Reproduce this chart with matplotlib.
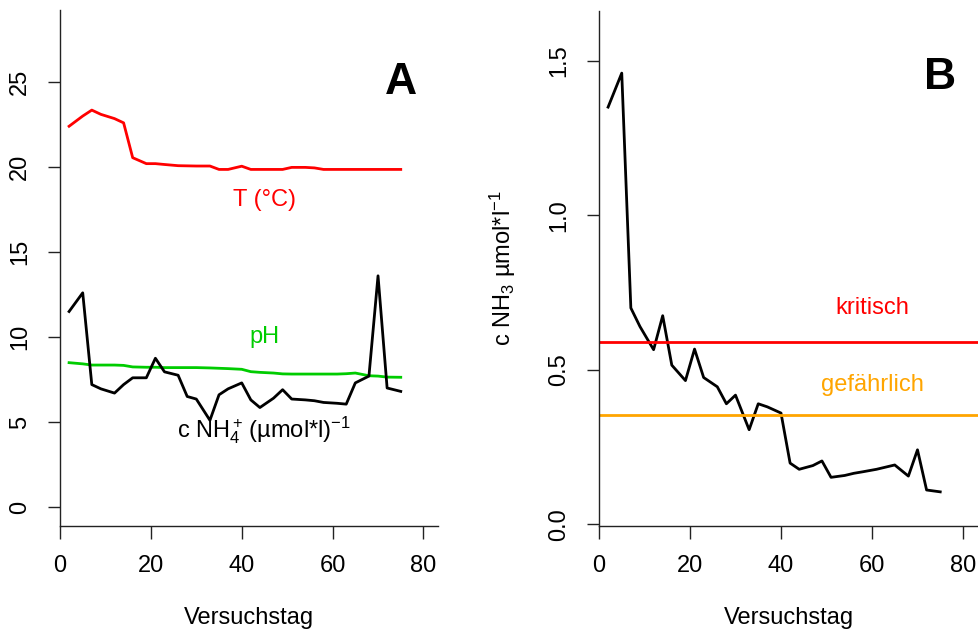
import matplotlib
matplotlib.use("Agg")
import matplotlib.pyplot as plt

plt.rcParams['font.family'] = ['Liberation Sans', 'DejaVu Sans']
plt.rcParams['mathtext.fontset'] = 'custom'
plt.rcParams['mathtext.rm'] = 'Liberation Sans'
plt.rcParams['mathtext.it'] = 'Liberation Sans:italic'
plt.rcParams['mathtext.bf'] = 'Liberation Sans:bold'

# Versuchstage (Mo/Mi/Fr)
tage = [2, 5, 7, 9, 12, 14, 16, 19, 21, 23, 26, 28, 30, 33, 35, 37,
        40, 42, 44, 47, 49, 51, 54, 56, 58, 61, 63, 65, 68, 70, 72, 75]

temp = [22.4, 23.0, 23.35, 23.1, 22.85, 22.6, 20.55, 20.2, 20.2, 20.15, 20.08, 20.07,
        20.06, 20.06, 19.86, 19.86, 20.05, 19.86, 19.86, 19.86, 19.86, 19.98, 19.98,
        19.95, 19.86, 19.86, 19.86, 19.86, 19.86, 19.86, 19.86, 19.86]

ph = [8.49, 8.42, 8.35, 8.35, 8.35, 8.33, 8.24, 8.22, 8.22, 8.2, 8.2, 8.2, 8.2,
      8.18, 8.16, 8.14, 8.1, 7.96, 7.92, 7.88, 7.83, 7.82, 7.82, 7.82, 7.82, 7.82,
      7.84, 7.88, 7.72, 7.7, 7.64, 7.63]

nh4 = [11.5, 12.6, 7.2, 6.95, 6.7, 7.2, 7.6, 7.6, 8.75, 7.95, 7.75, 6.5, 6.35,
       5.1, 6.6, 6.95, 7.3, 6.3, 5.85, 6.4, 6.9, 6.35, 6.3, 6.25, 6.15, 6.1,
       6.05, 7.3, 7.7, 13.6, 7.0, 6.8]

nh3 = [1.35, 1.46, 0.70, 0.64, 0.565, 0.675, 0.515, 0.465, 0.567, 0.475, 0.445,
       0.39, 0.418, 0.306, 0.39, 0.38, 0.36, 0.198, 0.178, 0.19, 0.205, 0.152,
       0.158, 0.165, 0.17, 0.178, 0.185, 0.192, 0.156, 0.241, 0.111, 0.105]

kritisch = 0.59
gefaehrlich = 0.355

fs = 17
axcol = '#222222'

fig = plt.figure(figsize=(9.79, 6.3), dpi=100)
axA = fig.add_axes([60/979, 104/630, 378/979, 516/630])
axB = fig.add_axes([599/979, 104/630, 379/979, 515/630])

for ax in (axA, axB):
    ax.spines['top'].set_visible(False)
    ax.spines['right'].set_visible(False)
    for s in ('left', 'bottom'):
        ax.spines[s].set_color(axcol)
        ax.spines[s].set_linewidth(1.0)
    ax.tick_params(length=9, width=1.0, color=axcol, labelsize=fs, pad=12)
    ax.set_xticks([0, 20, 40, 60, 80])

# x-Beschriftung knapp ueber dem unteren Rand
for ax in (axA, axB):
    pos = ax.get_position()
    fig.text((pos.x0 + pos.x1) / 2, 6/630, 'Versuchstag', ha='center',
             va='baseline', fontsize=fs)

# Panel A
axA.plot(tage, temp, color='red', lw=2)
axA.plot(tage, ph, color='#00cc00', lw=2)
axA.plot(tage, nh4, color='black', lw=2)
axA.set_xlim(0, 83.2)
axA.set_ylim(-1.12, 29.24)
axA.set_yticks([0, 5, 10, 15, 20, 25])
axA.text(45, 18.05, 'T (°C)', color='red', fontsize=fs, ha='center', va='center')
axA.text(45, 10.0, 'pH', color='#00cc00', fontsize=fs, ha='center', va='center')
axA.text(45, 4.5, r'c NH$_4^+\,$(µmol*l)$^{-1}$', color='black', fontsize=fs,
         ha='center', va='center')
axA.text(75, 25, 'A', fontsize=32, fontweight='bold', ha='center', va='center')

# Panel B
axB.plot(tage, nh3, color='black', lw=2)
axB.axhline(kritisch, color='red', lw=2)
axB.axhline(gefaehrlich, color='orange', lw=2)
axB.set_xlim(0, 83.3)
axB.set_ylim(-0.0055, 1.661)
axB.set_yticks([0.0, 0.5, 1.0, 1.5])
axB.set_yticklabels(['0.0', '0.5', '1.0', '1.5'])
axB.text(60, 0.70, 'kritisch', color='red', fontsize=fs, ha='center', va='center')
axB.text(60, 0.45, 'gefährlich', color='orange', fontsize=fs, ha='center', va='center')
axB.text(75, 1.445, 'B', fontsize=32, fontweight='bold', ha='center', va='center')
fig.text(503/979, 1 - 268.5/630, r'c NH$_3$ µmol*l$^{-1}$', rotation=90,
         ha='center', va='center', fontsize=fs)

for ax in (axA, axB):
    for lab in ax.get_yticklabels():
        lab.set_rotation(90)
        lab.set_va('center')

fig.savefig('out.png', dpi=100)
